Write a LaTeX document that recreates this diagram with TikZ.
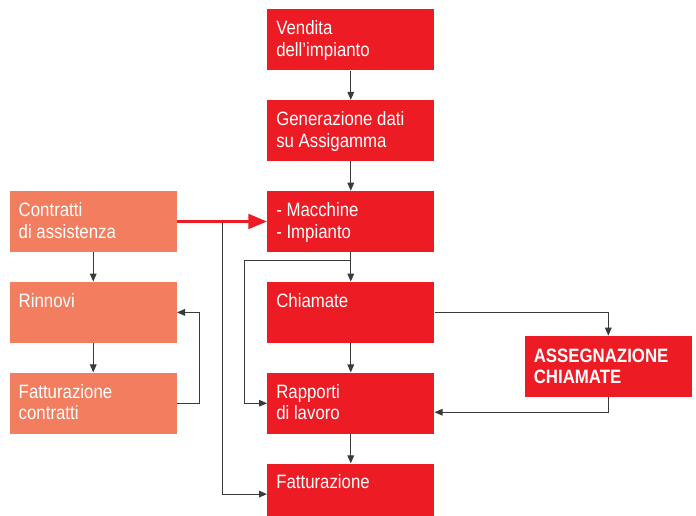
\documentclass[tikz,border=0pt]{standalone}
\usepackage{fontspec}
\setmainfont{Liberation Sans}[FakeStretch=0.87]
\usetikzlibrary{arrows.meta}
\usetikzlibrary{positioning}
\definecolor{boxred}{HTML}{ED1C24}
\definecolor{boxorange}{HTML}{F37E5F}
\definecolor{linegray}{HTML}{3A3A3A}
\tikzstyle{red_box} = [
    rectangle, 
    fill=boxred, 
    minimum width=125.25pt, 
    minimum height=45.75pt, 
    inner sep=0pt
]
\tikzstyle{orange_box} = [
    red_box, 
    fill=boxorange
]
\tikzstyle{box_text} = [
    anchor=north west, 
    white, 
    font=\fontsize{14.5}{16.3}\selectfont, 
    align=left, 
    inner sep=0pt, 
    xshift=6.75pt, % text inset from the box edge
    yshift=-8.5pt
]
\tikzstyle{link} = [
    draw=linegray, 
    line width=0.75pt, 
    -{Triangle[length=6pt, width=5pt]}
]
\tikzstyle{red_link} = [
    draw=boxred, 
    line width=2.25pt, 
    -{Triangle[length=14pt, width=11pt]}
]

\begin{document}
\begin{tikzpicture}[
    x=0.75pt, y=-0.75pt,
    node distance = 22pt and 67.5pt
] 
\useasboundingbox (0,0) rectangle (696,515);
% main column
\node [red_box, anchor=north west, label={[box_text]north west:Vendita\\dell’impianto}] (vendita) at (267,9) {};
\node [red_box, below=of vendita, label={[box_text]north west:Generazione dati\\su Assigamma}] (generazione) {};
\node [red_box, below=of generazione, label={[box_text]north west:- Macchine\\- Impianto}] (macchine) {};
\node [red_box, below=of macchine, label={[box_text]north west:Chiamate}] (chiamate) {};
\node [red_box, below=of chiamate, label={[box_text]north west:Rapporti\\di lavoro}] (rapporti) {};
\node [red_box, below=of rapporti, label={[box_text]north west:Fatturazione}] (fatturazione) {};
% contracts column
\node [orange_box, left=of macchine, label={[box_text]north west:Contratti\\di assistenza}] (contratti) {};
\node [orange_box, left=of chiamate, label={[box_text]north west:Rinnovi}] (rinnovi) {};
\node [orange_box, left=of rapporti, label={[box_text]north west:Fatturazione\\contratti}] (fattcontratti) {};
% call assignment
\node [red_box, right=of chiamate, yshift=-40.5pt, label={[box_text, font=\fontsize{14.5}{16.3}\selectfont\bfseries, yshift=-1pt]north west:ASSEGNAZIONE\\CHIAMATE}] (assegnazione) {};

\coordinate [right=33.75pt of contratti] (branch);
\coordinate [below=6pt of macchine] (split);

\draw [link] (vendita) -- (generazione);
\draw [link] (generazione) -- (macchine);
\draw [link] (macchine) -- (chiamate);
\draw [link] (chiamate) -- (rapporti);
\draw [link] (rapporti) -- (fatturazione);
\draw [link] (split) -| ([xshift=-17.25pt]rapporti.west) -- (rapporti);
\draw [link] (branch) |- (fatturazione);
\draw [link] (chiamate) -| (assegnazione);
\draw [link] (assegnazione) |- ([yshift=-6.75pt]rapporti.east);
\draw [link] (contratti) -- (rinnovi);
\draw [link] (rinnovi) -- (fattcontratti);
\draw [link] (fattcontratti.east) -- ++(22,0) |- (rinnovi);
\draw [red_link] (contratti) -- (macchine);
\end{tikzpicture}
\end{document}
